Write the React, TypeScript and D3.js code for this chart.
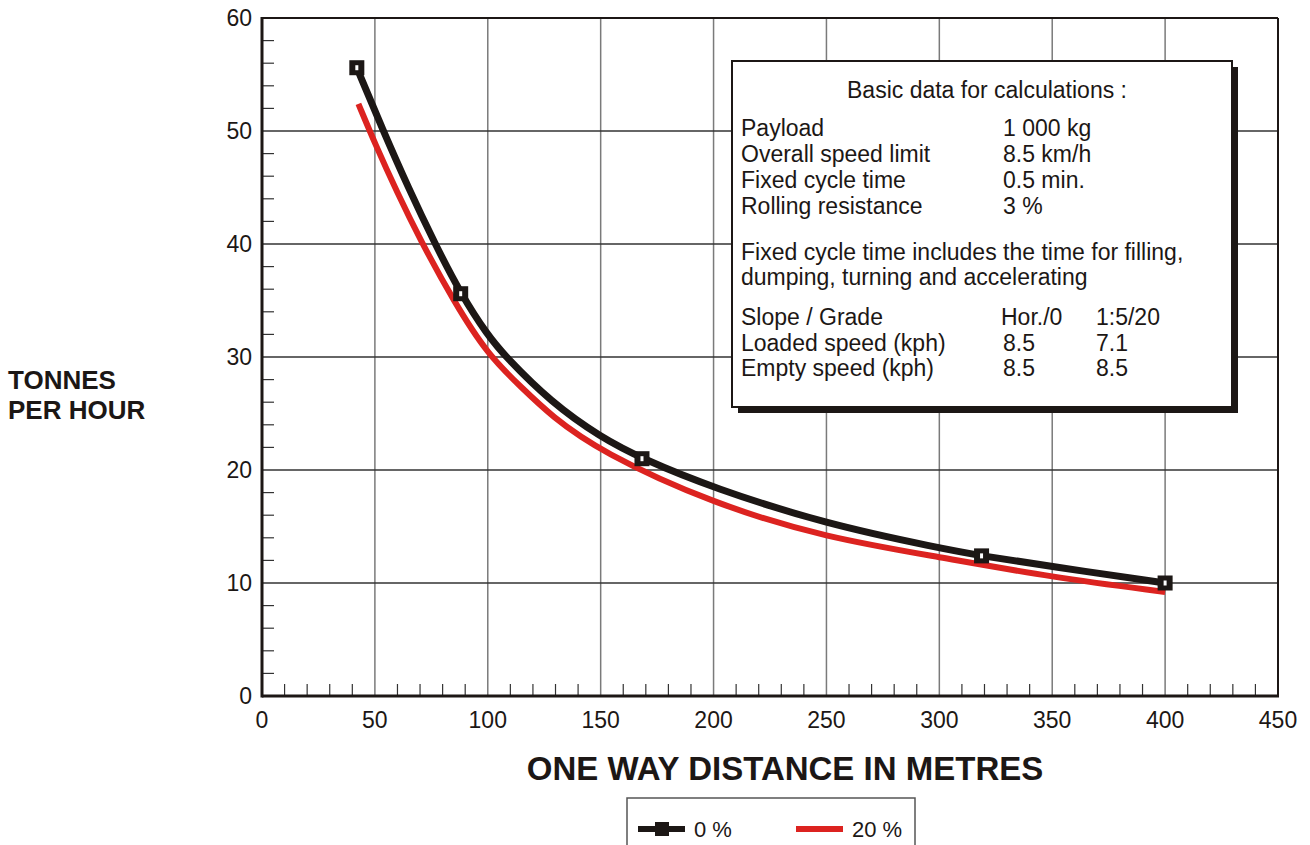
import React from "react"
import * as d3 from "d3"

// values
const xTicks = [0, 50, 100, 150, 200, 250, 300, 350, 400, 450]
const yTicks = [0, 10, 20, 30, 40, 50, 60]

const distance0 = [42, 53.5, 65, 76.4, 88, 100, 108, 128, 150, 168.3, 200, 250, 300, 318.7, 350, 400]
const tonnes0 = [55.6, 50.1, 44.9, 40.1, 35.6, 31.9, 30, 26.0, 22.9, 21.0, 18.4, 15.2, 13.1, 12.4, 11.45, 10.0]

const distance20 = [42.7, 50, 60, 70, 85, 100, 115, 128, 150, 200, 250, 300, 350, 400]
const tonnes20 = [52.4, 48.9, 44.5, 40.4, 34.9, 30.2, 27.3, 24.8, 21.6, 17.0, 14.0, 12.3, 10.5, 9.2]

const markerDistances = [42, 88, 168.3, 318.7, 400]
const markerTonnes = [55.6, 35.6, 21.0, 12.4, 10.0]

const infoTitle = "Basic data for calculations :"
const infoRows1 = [
  ["Payload", "1 000 kg"],
  ["Overall speed limit", "8.5 km/h"],
  ["Fixed cycle time", "0.5 min."],
  ["Rolling resistance", "3 %"],
]
const infoNote = [
  "Fixed cycle time includes the time for filling,",
  "dumping, turning and accelerating",
]
const infoRows2 = [
  ["Slope / Grade", "Hor./0", "1:5/20"],
  ["Loaded speed (kph)", "8.5", "7.1"],
  ["Empty speed (kph)", "8.5", "8.5"],
]

const legendItems = [
  { label: "0 %", color: "#1c1715", marker: true },
  { label: "20 %", color: "#dc2320", marker: false },
]

const font = "Arial, 'Liberation Sans', sans-serif"

export default function App() {
  const left = 262
  const right = 1278
  const top = 18
  const bottom = 696

  const x = d3.scaleLinear().domain([0, 450]).range([left, right])
  const y = d3.scaleLinear().domain([0, 60]).range([bottom, top])

  const line = d3
    .line<[number, number]>()
    .x(d => x(d[0]))
    .y(d => y(d[1]))
    .curve(d3.curveBasis)

  const black = distance0.map((d, i) => [d, tonnes0[i]] as [number, number])
  const red = distance20.map((d, i) => [d, tonnes20[i]] as [number, number])

  const xMinor = d3.range(0, 451, 10).filter(v => v % 50 !== 0)
  const yMinor = d3.range(0, 61, 2).filter(v => v % 10 !== 0)

  const box = { x: 732, y: 61, w: 500, h: 346 }
  const col1 = 741
  const col2 = 1003
  const col3 = 1096

  return (
    <div style={{ position: "absolute", left: 0, top: 0 }}>
      <svg width={1310} height={845} style={{ display: "block", fontFamily: font }}>
        <rect width={1310} height={845} fill="white" />

        {/* grid */}
        {xTicks.slice(1, -1).map(v => (
          <line key={"gx" + v} x1={x(v)} x2={x(v)} y1={top} y2={bottom} stroke="#7a7a7a" strokeWidth={1.5} />
        ))}
        {yTicks.slice(1, -1).map(v => (
          <line key={"gy" + v} x1={left} x2={right} y1={y(v)} y2={y(v)} stroke="#333" strokeWidth={1.3} />
        ))}

        {/* minor ticks */}
        {xMinor.map(v => (
          <line key={"mx" + v} x1={x(v)} x2={x(v)} y1={bottom} y2={bottom - 12} stroke="#333" strokeWidth={1.2} />
        ))}
        {yMinor.map(v => (
          <line key={"my" + v} x1={left} x2={left + 12} y1={y(v)} y2={y(v)} stroke="#333" strokeWidth={1.2} />
        ))}

        {/* frame */}
        <line x1={left} x2={right} y1={top} y2={top} stroke="#1c1715" strokeWidth={2} />
        <line x1={right} x2={right} y1={top} y2={bottom} stroke="#1c1715" strokeWidth={2} />
        <line x1={left} x2={right + 1} y1={bottom} y2={bottom} stroke="#1c1715" strokeWidth={3} />
        <line x1={left} x2={left} y1={top - 1} y2={bottom + 1.5} stroke="#1c1715" strokeWidth={3} />

        {/* tick labels */}
        {xTicks.map(v => (
          <text key={"tx" + v} x={x(v)} y={728} fontSize={23} textAnchor="middle" fill="#1c1715">
            {v}
          </text>
        ))}
        {yTicks.map(v => (
          <text key={"ty" + v} x={252} y={y(v) + 8} fontSize={23} textAnchor="end" fill="#1c1715">
            {v}
          </text>
        ))}

        {/* series */}
        <path d={line(red) ?? ""} fill="none" stroke="#dc2320" strokeWidth={6} />
        <path d={line(black) ?? ""} fill="none" stroke="#1c1715" strokeWidth={7} />
        {markerDistances.map((d, i) => (
          <g key={"m" + i} transform={`translate(${x(d)},${y(markerTonnes[i])})`}>
            <rect x={-7.5} y={-7.5} width={15} height={15} fill="#1c1715" />
            <rect x={-1.5} y={-2.5} width={3} height={5} fill="white" />
          </g>
        ))}

        {/* info box */}
        <rect x={box.x + 6} y={box.y + 6} width={box.w} height={box.h} fill="#1c1715" />
        <rect x={box.x} y={box.y} width={box.w} height={box.h} fill="white" stroke="#1c1715" strokeWidth={2} />
        <g fontSize={23} fill="#1c1715">
          <text x={987} y={98} textAnchor="middle">
            {infoTitle}
          </text>
          {infoRows1.map((r, i) => (
            <g key={"r1" + i}>
              <text x={col1} y={136 + i * 26}>{r[0]}</text>
              <text x={col2} y={136 + i * 26}>{r[1]}</text>
            </g>
          ))}
          {infoNote.map((t, i) => (
            <text key={"n" + i} x={col1} y={260 + i * 25}>
              {t}
            </text>
          ))}
          {infoRows2.map((r, i) => (
            <g key={"r2" + i}>
              <text x={col1} y={325 + i * 25.5}>{r[0]}</text>
              <text x={i === 0 ? col2 - 2 : col2} y={325 + i * 25.5}>{r[1]}</text>
              <text x={col3} y={325 + i * 25.5}>{r[2]}</text>
            </g>
          ))}
        </g>

        {/* axis titles */}
        <text x={785} y={780} fontSize={33} fontWeight="bold" textAnchor="middle" fill="#1c1715">
          ONE WAY DISTANCE IN METRES
        </text>
        <g fontSize={26} fontWeight="bold" fill="#1c1715">
          <text x={8} y={389}>TONNES</text>
          <text x={8} y={419}>PER HOUR</text>
        </g>

        {/* legend */}
        <rect x={627} y={798} width={288} height={60} fill="white" stroke="#555" strokeWidth={1.5} />
        {legendItems.map((it, i) => {
          const lx = 638 + i * 158
          return (
            <g key={"lg" + i}>
              <line x1={lx} x2={lx + 47} y1={829} y2={829} stroke={it.color} strokeWidth={6} />
              {it.marker && <rect x={lx + 17} y={822} width={14} height={14} fill={it.color} />}
              <text x={lx + 56} y={837} fontSize={22} fill="#1c1715">
                {it.label}
              </text>
            </g>
          )
        })}
      </svg>
    </div>
  )
}
